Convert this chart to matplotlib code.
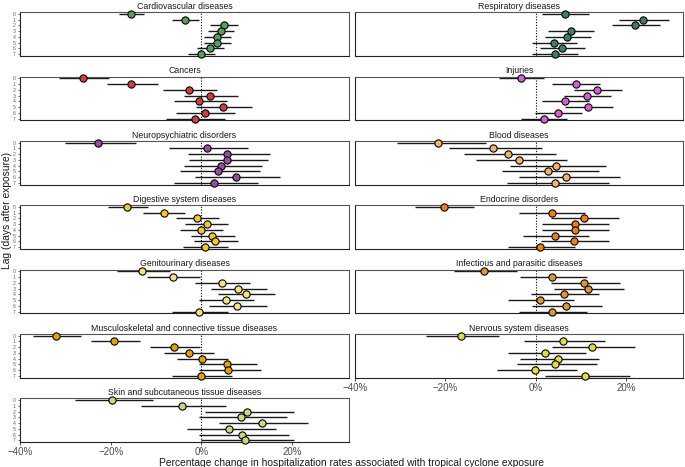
import matplotlib
matplotlib.use("Agg")
import matplotlib.pyplot as plt
import numpy as np

plt.rcParams['font.family'] = ['Liberation Sans', 'DejaVu Sans']

lags = [0, 1, 2, 3, 4, 5, 6, 7]
lag_labels = ["0", "1", "2", "3", "4", "5", "6", "7"]
xticks = [-40, -20, 0, 20]
xtick_labels = ["\u221240%", "\u221220%", "0%", "20%"]

cardio_est = [-15.5, -3.5, 5.0, 4.3, 3.5, 3.5, 2.0, -0.1]
cardio_lo = [-18.1, -6.5, 2.0, 1.4, 0.7, 0.6, -0.9, -2.9]
cardio_hi = [-12.6, -0.6, 8.0, 7.2, 6.5, 6.5, 5.1, 3.0]

resp_est = [6.5, 23.8, 22.0, 7.8, 7.0, 4.0, 5.8, 4.2]
resp_lo = [1.5, 18.5, 16.8, 2.7, 2.1, -0.8, 0.9, -0.8]
resp_hi = [11.8, 29.4, 27.6, 12.9, 12.2, 9.1, 10.9, 9.3]

cancer_est = [-26.1, -15.4, -2.7, 1.9, -0.5, 4.9, 0.8, -1.4]
cancer_lo = [-31.4, -20.9, -8.5, -3.8, -6.1, -1.1, -5.5, -7.7]
cancer_hi = [-20.3, -9.6, 3.4, 8.0, 5.6, 11.3, 7.4, 5.2]

injury_est = [-3.3, 8.9, 13.5, 11.3, 6.5, 11.6, 4.9, 1.8]
injury_lo = [-8.1, 3.7, 8.4, 6.3, 1.5, 6.5, -0.1, -3.2]
injury_hi = [1.9, 14.2, 19.0, 16.7, 11.7, 17.0, 10.2, 7.0]

neuro_est = [-22.8, 1.2, 5.7, 5.7, 4.3, 3.8, 7.6, 2.9]
neuro_lo = [-30.1, -7.2, -2.9, -2.8, -3.8, -4.6, -1.4, -6.0]
neuro_hi = [-14.4, 10.3, 15.1, 14.8, 13.3, 12.9, 17.3, 12.5]

blood_est = [-21.6, -9.5, -6.2, -3.7, 4.4, 2.7, 6.8, 4.3]
blood_lo = [-30.8, -19.2, -15.9, -13.3, -5.7, -7.4, -3.7, -6.4]
blood_hi = [-11.1, 1.4, 4.5, 7.0, 15.6, 14.0, 18.7, 16.2]

digest_est = [-16.3, -8.3, -1.0, 1.2, 0.0, 2.4, 3.1, 0.8]
digest_lo = [-20.5, -12.8, -5.5, -3.6, -4.6, -2.3, -1.5, -4.0]
digest_hi = [-11.7, -3.7, 3.9, 5.9, 4.8, 7.4, 8.1, 5.8]

endo_est = [-20.4, 3.5, 10.6, 8.7, 8.7, 4.3, 8.4, 1.0]
endo_lo = [-26.7, -3.6, 3.4, 1.5, 1.5, -2.8, 1.1, -6.1]
endo_hi = [-13.7, 10.9, 18.4, 16.2, 16.2, 11.8, 16.3, 8.6]

genito_est = [-13.0, -6.3, 4.5, 8.1, 9.8, 5.4, 7.8, -0.5]
genito_lo = [-18.5, -11.9, -1.3, 2.1, 3.8, -0.6, 1.6, -6.4]
genito_hi = [-7.0, -0.3, 10.8, 14.4, 16.2, 11.7, 14.5, 5.9]

infect_est = [-11.5, 3.7, 10.6, 11.5, 6.2, 0.9, 6.6, 3.7]
infect_lo = [-18.1, -3.5, 3.3, 4.1, -1.0, -6.1, -0.8, -3.7]
infect_hi = [-4.2, 11.4, 18.7, 19.5, 14.0, 8.5, 14.6, 11.4]

musc_est = [-32.1, -19.2, -6.0, -2.8, 0.2, 5.7, 6.0, -0.1]
musc_lo = [-37.2, -24.3, -11.4, -8.2, -5.3, -0.6, -0.5, -6.5]
musc_hi = [-26.5, -13.6, -0.3, 2.9, 6.0, 12.3, 13.1, 6.7]

nerv_est = [-16.6, 6.0, 12.4, 2.1, 4.9, 4.3, -0.1, 11.0]
nerv_lo = [-24.2, -2.6, 3.5, -6.1, -3.5, -4.2, -8.6, 2.1]
nerv_hi = [-8.1, 15.3, 21.9, 11.2, 14.1, 13.5, 9.2, 20.9]

skin_est = [-19.7, -4.3, 10.1, 8.8, 13.4, 6.2, 9.0, 9.7]
skin_lo = [-27.9, -13.2, 0.8, -0.5, 4.0, -3.1, -0.6, -0.1]
skin_hi = [-10.6, 5.4, 20.4, 18.9, 23.6, 16.5, 19.4, 20.4]

panels = [
    # (title, est, lo, hi, color, col, row)
    ("Cardiovascular diseases", cardio_est, cardio_lo, cardio_hi, "#55a05e", 0, 0),
    ("Respiratory diseases", resp_est, resp_lo, resp_hi, "#3d7f6c", 1, 0),
    ("Cancers", cancer_est, cancer_lo, cancer_hi, "#d63c3c", 0, 1),
    ("Injuries", injury_est, injury_lo, injury_hi, "#d95ed6", 1, 1),
    ("Neuropsychiatric disorders", neuro_est, neuro_lo, neuro_hi, "#9a4d9e", 0, 2),
    ("Blood diseases", blood_est, blood_lo, blood_hi, "#f8b466", 1, 2),
    ("Digestive system diseases", digest_est, digest_lo, digest_hi, "#f6c81c", 0, 3),
    ("Endocrine disorders", endo_est, endo_lo, endo_hi, "#f57f0c", 1, 3),
    ("Genitourinary diseases", genito_est, genito_lo, genito_hi, "#f8e27a", 0, 4),
    ("Infectious and parasitic diseases", infect_est, infect_lo, infect_hi, "#dc9a2e", 1, 4),
    ("Musculoskeletal and connective tissue diseases", musc_est, musc_lo, musc_hi, "#e6a300", 0, 5),
    ("Nervous system diseases", nerv_est, nerv_lo, nerv_hi, "#e3dc3a", 1, 5),
    ("Skin and subcutaneous tissue diseases", skin_est, skin_lo, skin_hi, "#cbd87c", 0, 6),
]

W, H = 685, 467
fig = plt.figure(figsize=(W / 100, H / 100), dpi=100)

col_left = [20, 355]
col_width = [329, 328]
row_top0 = 12.3
row_step = 64.35
panel_h = 43.6

for title, est, lo, hi, color, col, row in panels:
    top = row_top0 + row * row_step
    ax = fig.add_axes([col_left[col] / W, 1 - (top + panel_h) / H,
                       col_width[col] / W, panel_h / H])
    est = np.array(est); lo = np.array(lo); hi = np.array(hi)
    ax.axvline(0, color="black", linestyle=(0, (1, 1.5)), linewidth=0.8, zorder=1)
    ax.hlines(lags, lo, hi, color="#1a1a1a", linewidth=1.0, zorder=2)
    ax.plot(est, lags, linestyle="none", marker="o", markersize=5.2,
            markerfacecolor=color, markeredgecolor="black", markeredgewidth=0.8,
            zorder=3, clip_on=False)
    ax.set_xlim(-40, 32.6)
    ax.set_ylim(7.3, -0.28)
    ax.set_title(title, fontsize=6.3, pad=2.5, color="#1a1a1a")
    for s in ax.spines.values():
        s.set_color("#555555")
        s.set_linewidth(0.8)
    ax.spines['left'].set_color("#222222")
    ax.spines['bottom'].set_color("#222222")
    ax.set_xticks(xticks)
    bottom_row = 6 if col == 0 else 5
    if row == bottom_row:
        ax.set_xticklabels(xtick_labels, fontsize=7, color="#4d4d4d")
        ax.tick_params(axis='x', length=2.5, width=0.6, pad=1.2, color="#333333")
    else:
        ax.tick_params(axis='x', length=0, labelbottom=False)
    if col == 0:
        ax.set_yticks(lags)
        ax.set_yticklabels(lag_labels, fontsize=3.8, color="#666666")
        ax.tick_params(axis='y', length=1.8, width=0.5, pad=1.5, color="#333333")
    else:
        ax.set_yticks([])

fig.text(351.5 / W, 1 - 462.5 / H,
         "Percentage change in hospitalization rates associated with tropical cyclone exposure",
         ha="center", va="center", fontsize=7.35, color="#1a1a1a")
fig.text(7 / W, 1 - 210 / H, "Lag (days after exposure)", rotation=90,
         ha="center", va="center", fontsize=7.4, color="#1a1a1a")

fig.savefig("out.png", dpi=100)
